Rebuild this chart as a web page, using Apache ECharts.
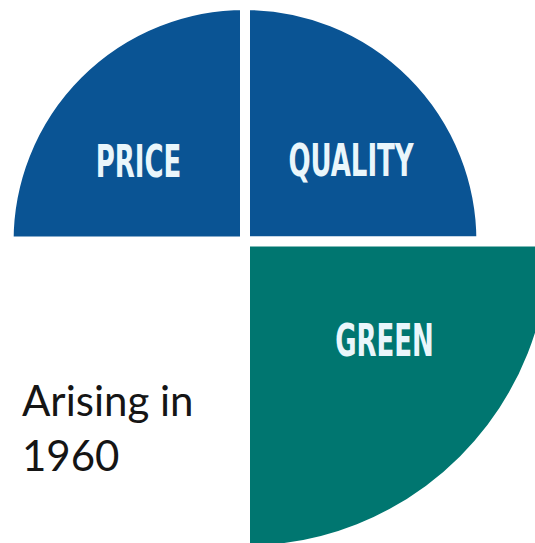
<!DOCTYPE html>
<html>
<head>
<meta charset="utf-8">
<script src="https://cdn.jsdelivr.net/npm/echarts@6/dist/echarts.min.js"></script>
<style>
html,body{margin:0;padding:0;background:#fff;}
#chart{width:535px;height:543px;}
</style>
</head>
<body>
<div id="chart"></div>
<script>
// ---- data ----
var categories = ['PRICE', 'QUALITY', 'GREEN', ''];
var values = [100, 100, 130.7, 0];
var noteLines = ['Arising in', '1960'];

// ---- styles ----
var colors = {PRICE: '#0A5494', QUALITY: '#0A5494', GREEN: '#007670'};
var labelPos = {PRICE: [138.5, 161.5], QUALITY: [351, 160.5], GREEN: [384.5, 340.5]};

var chart = echarts.init(document.getElementById('chart'), null, {renderer: 'svg'});

var pieData = categories.map(function (name, i) {
  var empty = !name;
  return {
    name: name || 'none',
    value: values[i],
    itemStyle: empty ? {color: 'rgba(0,0,0,0)', borderWidth: 0} : {color: colors[name]}
  };
});

var graphics = categories.filter(function (n) { return !!n; }).map(function (name) {
  return {
    type: 'text',
    x: labelPos[name][0],
    y: labelPos[name][1],
    scaleX: 0.85,
    scaleY: 1.3,
    style: {
      text: name,
      font: 'bold 34px "Liberation Sans Narrow", "DejaVu Sans Condensed", sans-serif',
      fill: '#EAF6FB',
      align: 'center',
      verticalAlign: 'middle'
    },
    z: 10
  };
});

graphics.push({
  type: 'text',
  left: 22,
  top: 372,
  style: {
    text: noteLines.join('\n'),
    font: '42px Lato, "Open Sans", sans-serif',
    lineHeight: 55,
    fill: '#151515'
  }
});

chart.setOption({
  animation: false,
  backgroundColor: '#ffffff',
  series: [{
    type: 'pie',
    roseType: 'area',
    center: [245, 241.5],
    radius: [0, 309],
    startAngle: 180,
    clockwise: true,
    label: {show: false},
    labelLine: {show: false},
    emphasis: {disabled: true},
    itemStyle: {borderColor: '#ffffff', borderWidth: 10},
    data: pieData
  }],
  graphic: graphics
});
</script>
</body>
</html>
